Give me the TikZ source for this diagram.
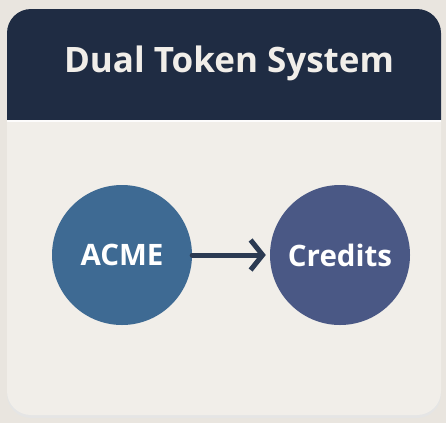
\documentclass[tikz,border=0pt]{standalone}
\usepackage{fontspec}
\setmainfont{Open Sans}
\usetikzlibrary{arrows.meta}

\definecolor{pagebg}{HTML}{E9E5DF}
\definecolor{cardbg}{HTML}{F1EEE9}
\definecolor{headnavy}{HTML}{1F2C43}
\definecolor{acmeblue}{HTML}{3E6A93}
\definecolor{creditblue}{HTML}{4A5885}
\definecolor{arrownavy}{HTML}{2B3A52}

\tikzset{
	token/.style = {circle, minimum size = 140pt, inner sep = 0pt, text = white, font = \fontsize{29.5}{32}\selectfont\bfseries},
	flow/.style = {-{Straight Barb[length = 12pt, width = 30pt]}, line width = 5pt, color = arrownavy, line cap = round, line join = round}
}

\begin{document}
\begin{tikzpicture}[x = 1pt, y = -1pt]
	\useasboundingbox (0,0) rectangle (446,423);
	\fill [pagebg] (0,0) rectangle (446,423);
	\fill [black!10, rounded corners = 24pt] (7,12) rectangle (441,418);
	\fill [cardbg, rounded corners = 24pt] (7,9) rectangle (441,415);
	\fill [headnavy] (7,120) [rounded corners = 24pt] -- (7,9) -- (441,9) [sharp corners] -- (441,120) -- cycle;
	\draw [white!85!cardbg, line width = 1.5pt] (7,121) -- (441,121);
	\node (title) at (229,63) [text = cardbg, font = \fontsize{35}{38}\selectfont\bfseries] {Dual Token System};
	\node (acme) at (122,255) [token, fill = acmeblue] {ACME};
	\node (credits) at (340,255) [token, fill = creditblue] {Credits};
	\draw [flow, shorten > = 4pt] (acme) -- (credits);
\end{tikzpicture}
\end{document}
